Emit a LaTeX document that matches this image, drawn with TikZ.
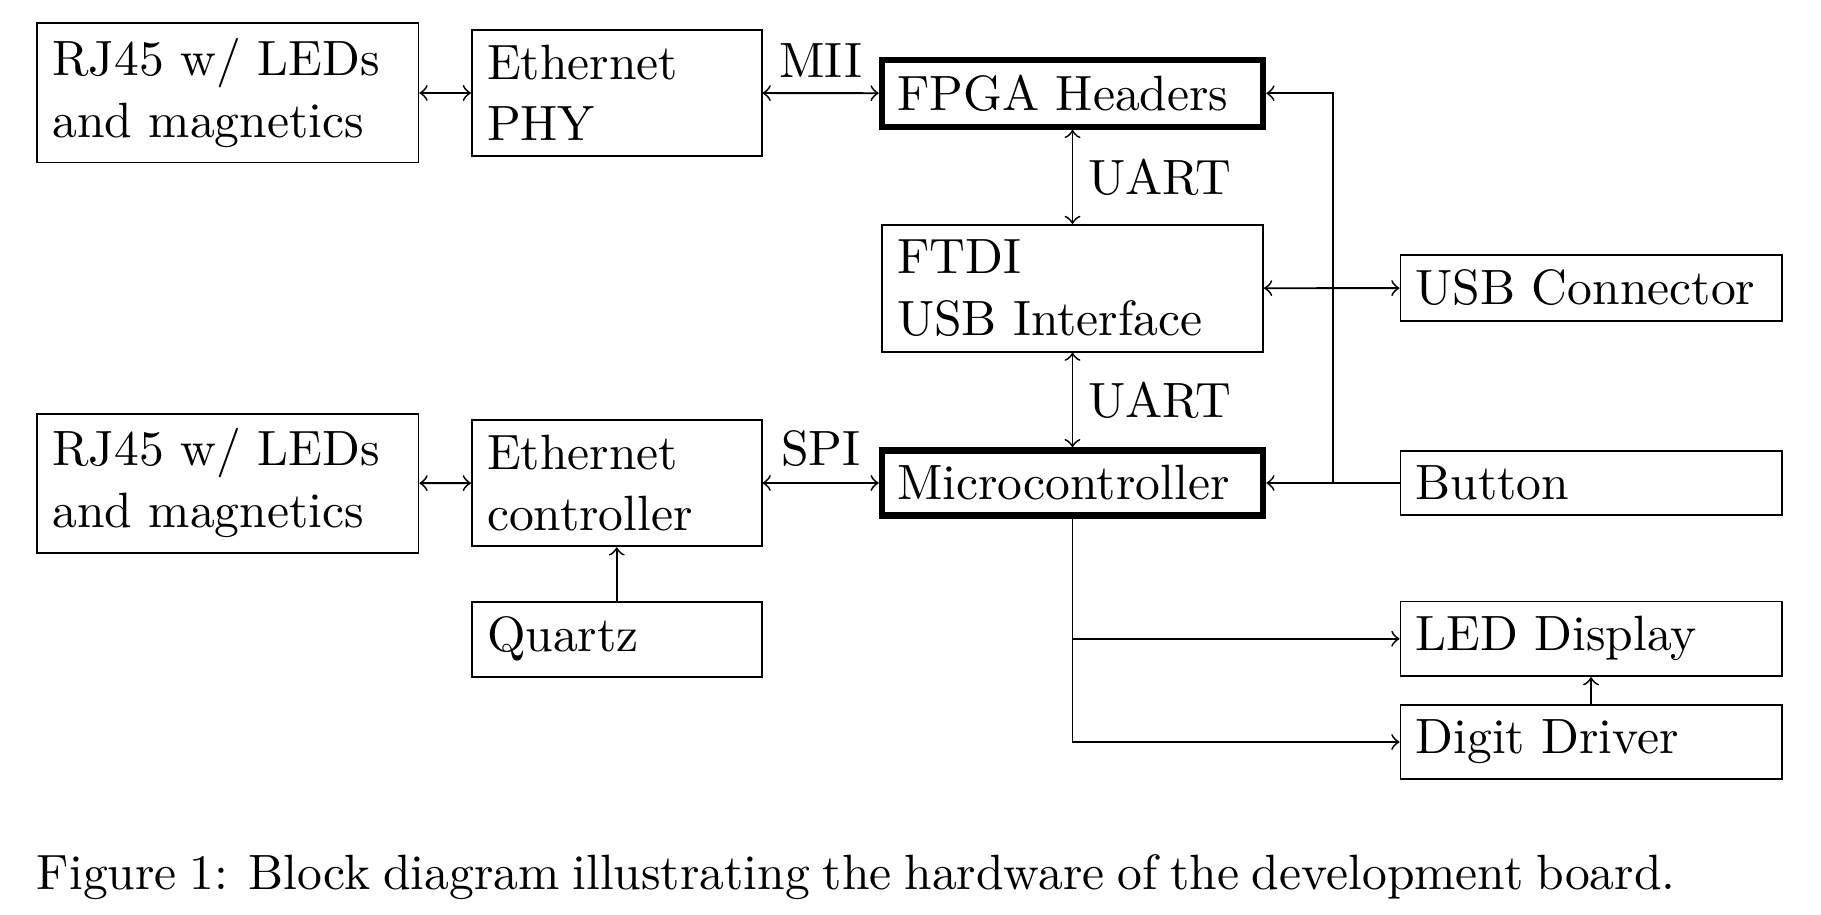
\documentclass[tikz,border=0pt]{standalone}
\begin{document}
\begin{tikzpicture}[x=0.2208pt,y=-0.2208pt,
  font=\fontsize{10.95}{13.6}\selectfont,
  blk/.style={draw,line width=0.4pt,align=left,text width=77.5pt,inner sep=0.3333em},
  nar/.style={blk,text width=57.3pt},
  hub/.style={blk,line width=1.4pt},
  conn/.style={line width=0.4pt},
  lbl/.style={inner sep=0.3333em}]
\useasboundingbox (0,0) rectangle (1821,914);

% column 1
\node[blk] (rja) at (227.9,93) {RJ45 w/ LEDs\\and magnetics};
\node[blk] (rjb) at (227.9,483.3) {RJ45 w/ LEDs\\and magnetics};
% column 2
\node[nar] (phy) at (616.75,93) {Ethernet\\PHY};
\node[nar] (ethc) at (616.75,483) {Ethernet\\controller};
\node[nar] (quartz) at (616.75,639.2) {Quartz};
% column 3
\node[hub] (fpga) at (1072.5,93.3) {FPGA Headers};
\node[blk] (ftdi) at (1072.5,288.3) {FTDI\\USB Interface};
\node[hub] (mcu) at (1072.5,483) {Microcontroller};
% column 4
\node[blk] (usb) at (1591,288) {USB Connector};
\node[blk] (button) at (1591,483) {Button};
\node[blk] (led) at (1591,638.8) {LED Display};
\node[blk] (digit) at (1591,742) {Digit Driver};

\coordinate (bus) at (1332.7,483);

% connectors
\draw[conn,<->] (rja) -- (phy);
\draw[conn,<->] (rjb) -- (ethc);
\draw[conn,<->] (phy) -- node[lbl,above] (mii) {MII} (fpga);
\draw[conn,<->] (ethc) -- node[lbl,above] (spi) {SPI} (mcu);
\draw[conn,->] (quartz) -- (ethc);
\draw[conn,<->] (fpga) -- node[lbl,right] (uarta) {UART} (ftdi);
\draw[conn,<->] (ftdi) -- node[lbl,right] (uartb) {UART} (mcu);
\draw[conn,<->] (ftdi) -- (usb);
\draw[conn,->] (button) -- (mcu);
\draw[conn,->] (bus) |- (fpga.east);
\draw[conn,->] (mcu.south) |- (led.west);
\draw[conn,->] (mcu.south) |- (digit.west);
\draw[conn,->] (digit) -- (led);

% caption
\node[anchor=base west,inner sep=0pt] (cap) at (36,889)
  {\hbox to 361.8pt{Figure 1: Block diagram illustrating the hardware of the development board.}};
\end{tikzpicture}
\end{document}
